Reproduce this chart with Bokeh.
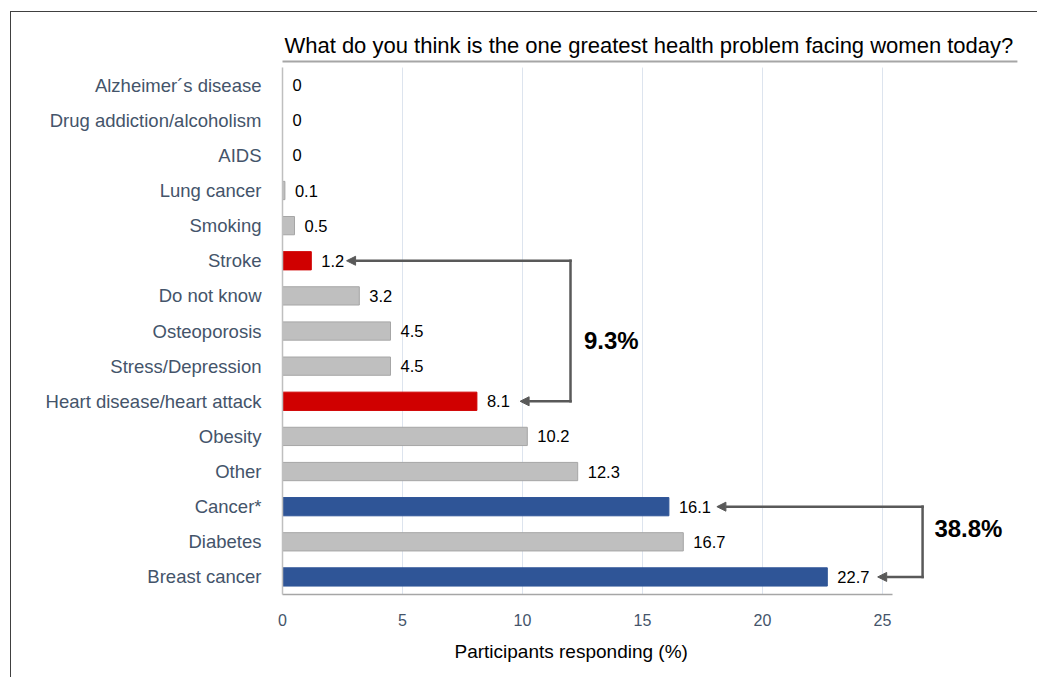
from bokeh.plotting import figure
from bokeh.models import Range1d, FixedTicker, Arrow, NormalHead, Label, ColumnDataSource, Title
from bokeh.core.properties import value
from bokeh.embed import file_html
from bokeh.resources import INLINE

# ---- data (top to bottom, as displayed) ----
categories = ["Alzheimer´s disease", "Drug addiction/alcoholism", "AIDS", "Lung cancer",
              "Smoking", "Stroke", "Do not know", "Osteoporosis", "Stress/Depression",
              "Heart disease/heart attack", "Obesity", "Other", "Cancer*", "Diabetes",
              "Breast cancer"]
values = [0, 0, 0, 0.1, 0.5, 1.2, 3.2, 4.5, 4.5, 8.1, 10.2, 12.3, 16.1, 16.7, 22.7]
groups = ["other", "other", "other", "other", "other", "cardio", "other", "other", "other",
          "cardio", "other", "other", "cancer", "other", "cancer"]
x_ticks = [0, 5, 10, 15, 20, 25]
title_text = "What do you think is the one greatest health problem facing women today?"
x_title = "Participants responding (%)"
bracket_cardio = ["Stroke", "Heart disease/heart attack"]
bracket_cancer = ["Cancer*", "Breast cancer"]
cardio_total = "9.3%"
cancer_total = "38.8%"

FONT = "'Liberation Sans', Arial, sans-serif"
fill_map = {"other": "#BFBFBF", "cardio": "#D00000", "cancer": "#2F5597"}
line_map = {"other": "#A6A6A6", "cardio": "#D00000", "cancer": "#2F5597"}

n = len(categories)
ypos_map = {c: n - i for i, c in enumerate(categories)}  # top category at n, bottom at 1
ys = [ypos_map[c] for c in categories]

src = ColumnDataSource(dict(
    y=ys, val=values,
    label=[f"{v:g}" for v in values],
    fill=[fill_map[g] for g in groups],
    line=[line_map[g] for g in groups],
))

PITCH = 35.13  # px per category
W, H = 1027, 666
LEFT, BOTTOM = 271, 84
y_end = 0.5 + (H - BOTTOM) / PITCH
x_end = (W - LEFT) / 24.0

p = figure(width=W, height=H, x_range=Range1d(0, x_end), y_range=Range1d(0.5, y_end),
           output_backend="svg", toolbar_location=None,
           min_border_left=LEFT, min_border_right=0, min_border_top=0, min_border_bottom=BOTTOM)
p.margin = (11, 0, 0, 10)
p.styles = {"border-left": "1.5px solid #404040", "border-top": "1.5px solid #404040"}
p.outline_line_color = None
p.xgrid.grid_line_color = None
p.ygrid.grid_line_color = None

# gridlines limited to the category area
p.segment(x0=x_ticks, y0=[0.5] * len(x_ticks), x1=x_ticks, y1=[n + 0.5] * len(x_ticks),
          line_color="#DDE4EE", line_width=1, level="underlay")

p.hbar(y="y", right="val", left=0, height=0.52, source=src,
       fill_color="fill", line_color="line", line_width=1)
p.text(x="val", y="y", text="label", source=src, x_offset=10,
       text_baseline="middle", text_align="left",
       text_font=value(FONT), text_font_size="16.5px", text_color="#000000")

# axes
p.yaxis.ticker = FixedTicker(ticks=ys)
p.yaxis.major_label_overrides = {ypos_map[c]: c for c in categories}
p.yaxis.bounds = (0.5, n + 0.5)
p.yaxis.major_tick_line_color = None
p.yaxis.minor_tick_line_color = None
p.yaxis.axis_line_color = "#BFBFBF"
p.yaxis.axis_line_width = 1.5
p.yaxis.major_label_standoff = 15
p.yaxis.major_label_text_font = FONT
p.yaxis.major_label_text_font_size = "18.5px"
p.yaxis.major_label_text_color = "#44546A"

p.xaxis.ticker = FixedTicker(ticks=x_ticks)
p.xaxis.bounds = (0, 25.42)
p.xaxis.major_tick_line_color = None
p.xaxis.minor_tick_line_color = None
p.xaxis.axis_line_color = "#A6A6A6"
p.xaxis.axis_line_width = 1.5
p.xaxis.major_label_standoff = 13
p.xaxis.major_label_text_font = FONT
p.xaxis.major_label_text_font_size = "16px"
p.xaxis.major_label_text_color = "#44546A"

# x-axis title, positioned under the data area
p.add_layout(Title(text=x_title, align="left", offset=172, standoff=21,
                   text_font=FONT, text_font_size="19px", text_font_style="normal",
                   text_color="#000000"), "below")

def py(page_y):
    # page pixel row -> data y
    return 0.5 + (594.5 - page_y) / PITCH

AC = "#595959"
def seg(x0, y0, x1, y1, head=False, color=AC, width=2.5):
    p.add_layout(Arrow(x_start=x0, y_start=y0, x_end=x1, y_end=y1,
                       end=NormalHead(size=9, fill_color=color, line_color=color) if head else None,
                       line_color=color, line_width=width, line_cap="square"))

# cardio bracket
ya, yb = ypos_map[bracket_cardio[0]], ypos_map[bracket_cardio[1]]
bx = 12.0
seg(bx, ya, 2.67, ya, head=True)
seg(bx, ya, bx, yb)
seg(bx, yb, 9.9, yb, head=True)
p.add_layout(Label(x=13.7, y=py(340), text=cardio_total, text_align="center", text_baseline="middle",
                   text_font=FONT, text_font_size="24px", text_font_style="bold", text_color="#000000"))

# cancer bracket
ya, yb = ypos_map[bracket_cancer[0]], ypos_map[bracket_cancer[1]]
bx = 26.67
seg(bx, ya, 18.1, ya, head=True)
seg(bx, ya, bx, yb)
seg(bx, yb, 24.8, yb, head=True)
p.add_layout(Label(x=28.58, y=py(528), text=cancer_total, text_align="center", text_baseline="middle",
                   text_font=FONT, text_font_size="24px", text_font_style="bold", text_color="#000000"))

# title and underline
p.add_layout(Label(x=0.08, y=py(45), text=title_text, text_align="left", text_baseline="middle",
                   text_font=FONT, text_font_size="22px", text_color="#000000"))
seg(0, py(61.5), 30.58, py(61.5), color="#A6A6A6", width=2)

open("out.html", "w").write(file_html(p, INLINE))
